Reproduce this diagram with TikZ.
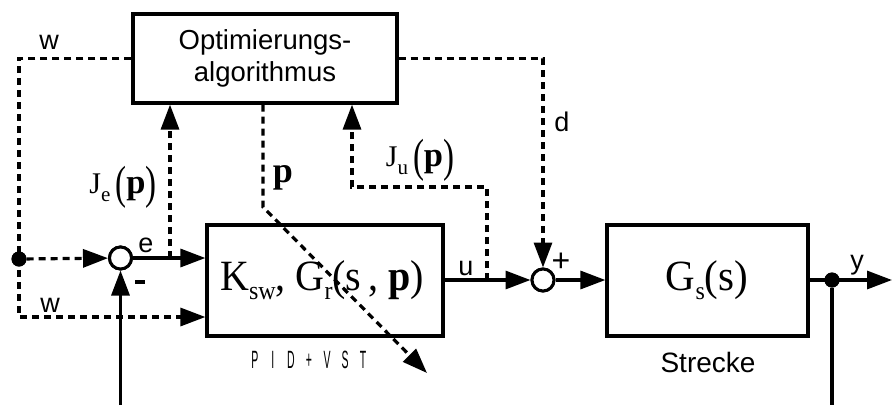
\documentclass[tikz,border=0pt]{standalone}
\usepackage{fontspec}
\usepackage{graphicx}
\setmainfont{Liberation Serif}
\newfontfamily\arial{Liberation Sans}
\usetikzlibrary{arrows.meta}
\newcommand\lowsub[1]{\raisebox{-0.22em}{\fontsize{24}{24}\selectfont #1}}
\newcommand\smsub[1]{\raisebox{-0.25em}{\fontsize{21}{21}\selectfont #1}}
\newcommand\tparen[1]{\raisebox{-0.14em}{\scalebox{1.1}[1.55]{#1}}}
\newcommand\pidl[1]{\makebox[43pt]{#1}}
\tikzset{
  blk/.style={draw, line width=3.2pt, rectangle, inner sep=0pt},
  sumc/.style={draw, line width=3pt, circle, minimum size=22pt, inner sep=0pt, fill=white},
  dotc/.style={fill, circle, minimum size=15pt, inner sep=0pt},
  sl/.style={line width=3.2pt},
  dl/.style={line width=3.2pt, dash pattern=on 7pt off 5pt},
  arr/.style={-{Triangle[length=25pt,width=18pt]}},
  lab/.style={font=\arial\fontsize{27}{27}\selectfont, inner sep=0pt},
  mth/.style={inner sep=0pt}
}
\begin{document}
\begin{tikzpicture}[x=1pt,y=-1pt]
\useasboundingbox (0,0) rectangle (892,405);
% blocks
\node[blk, minimum width=264pt, minimum height=89pt, align=center,
      font=\arial\fontsize{27.5}{32}\selectfont] (opt) at (265,58.5) {Optimierungs-\\algorithmus};
\node[blk, minimum width=236pt, minimum height=111pt] (ctrl) at (325,280.5) {};
\node[blk, minimum width=201pt, minimum height=111pt] (plant) at (707.5,280.5) {};
\node[sumc] (sum1) at (120.5,258) {};
\node[sumc] (sum2) at (543,280) {};
\node[dotc] (dotL) at (19,259) {};
\node[dotc] (dotR) at (832,280) {};
% coordinates
\coordinate (wcorner) at (19,317);
\coordinate (je) at (170,258);
\coordinate (pbend) at (263,207);
\coordinate (pend) at (427,373);
\coordinate (ju) at (487,280);
\coordinate (jucorner) at (352,187);
\coordinate (yout) at (892,280);
\coordinate (fbin) at (120.5,405);
\coordinate (ybot) at (832,405);
% connectors
\draw[dl,arr] (opt.west) -| (wcorner) -- (wcorner -| ctrl.west);
\draw[dl,arr] (dotL) -- (sum1);
\draw[sl,arr] (sum1) -- (sum1 -| ctrl.west);
\draw[dl,arr] (je) -- (je |- opt.south);
\draw[dl,arr] (pbend |- opt.south) -- (pbend) -- (pend);
\draw[dl,arr] (ju) |- (jucorner) -- (jucorner |- opt.south);
\draw[dl,arr] (opt.east) -| (sum2);
\draw[sl,arr] (ctrl.east |- sum2) -- (sum2);
\draw[sl,arr] (sum2) -- (sum2 -| plant.west);
\draw[sl,arr] (plant.east |- yout) -- (yout);
\draw[sl] (dotR) -- (ybot);
\draw[sl,arr] (fbin) -- (sum1);
\node[sumc] at (sum1) {};
\node[sumc] at (sum2) {};
\node[dotc] at (dotL) {};
\node[dotc] at (dotR) {};
% block texts
\node[mth, font=\fontsize{40}{40}\selectfont] (ctrltxt) at (322,280)
  {\scalebox{1}[1.08]{K\lowsub{sw}, G\lowsub{r}(s\,, \textbf{p})}};
\node[mth, font=\fontsize{41}{41}\selectfont] (planttxt) at (707,280)
  {\scalebox{1}[1.05]{G\lowsub{s}(s)}};
% labels
\node[lab] (lw1) at (49,42) {w};
\node[lab] (lw2) at (50,305) {w};
\node[lab] (le) at (146,245) {e};
\node[lab] (lminus) at (140,282) {\rule{10pt}{3.6pt}};
\node[lab, font=\arial\fontsize{32}{32}\selectfont] (lplus) at (561,262) {+};
\node[lab] (lu) at (466,268) {u};
\node[lab] (ld) at (562,122) {d};
\node[lab] (ly) at (857,265) {y};
\node[lab, font=\arial\fontsize{28}{28}\selectfont] (lstr) at (708,362) {Strecke};
\node[mth, font=\fontsize{30}{30}\selectfont] (lje) at (123,187)
  {J\smsub{e}\,\tparen{(}\scalebox{1.15}{\textbf{p}}\tparen{)}};
\node[mth, font=\fontsize{30}{30}\selectfont] (lju) at (420,160)
  {J\smsub{u}\,\tparen{(}\scalebox{1.15}{\textbf{p}}\tparen{)}};
\node[mth, font=\fontsize{36}{36}\selectfont] (lp) at (283,178) {\textbf{p}};
\node[mth] (lpid) at (309,360)
  {\scalebox{0.42}[1]{\arial\fontsize{25}{25}\selectfont\pidl{P}\pidl{I}\pidl{D}\pidl{+}\pidl{V}\pidl{S}\pidl{T}}};
\end{tikzpicture}
\end{document}
